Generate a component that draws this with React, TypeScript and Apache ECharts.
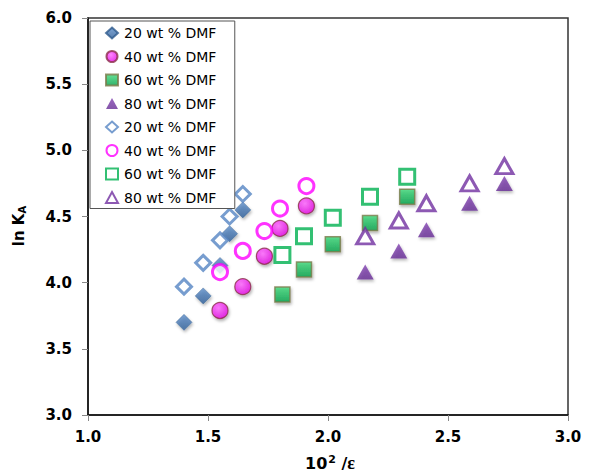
import React, { useEffect, useRef } from "react";
import * as echarts from "echarts";

// Data
const x20 = [1.40, 1.48, 1.55, 1.59, 1.645];
const filled20 = [3.70, 3.90, 4.13, 4.37, 4.55];
const open20 = [3.97, 4.15, 4.32, 4.50, 4.67];

const x40 = [1.55, 1.645, 1.735, 1.80, 1.91];
const filled40 = [3.79, 3.97, 4.20, 4.41, 4.58];
const open40 = [4.08, 4.24, 4.39, 4.56, 4.73];

const x60 = [1.81, 1.90, 2.02, 2.175, 2.33];
const filled60 = [3.91, 4.10, 4.29, 4.45, 4.65];
const open60 = [4.21, 4.35, 4.49, 4.65, 4.80];

const x80 = [2.155, 2.295, 2.41, 2.59, 2.735];
const filled80 = [4.08, 4.24, 4.40, 4.60, 4.75];
const open80 = [4.35, 4.47, 4.60, 4.75, 4.88];

const labels = ["20 wt % DMF", "40 wt % DMF", "60 wt % DMF", "80 wt % DMF"];
const xTicks = [1.0, 1.5, 2.0, 2.5, 3.0];
const yTicks = [3.0, 3.5, 4.0, 4.5, 5.0, 5.5, 6.0];

const zip = (xs: number[], ys: number[]) => xs.map((x, i) => [x, ys[i]]);

const shadow = {
  shadowBlur: 3,
  shadowColor: "rgba(0,0,0,0.35)",
  shadowOffsetX: 1,
  shadowOffsetY: 2,
};

const grad = (top: string, bottom: string) =>
  new echarts.graphic.LinearGradient(0, 0, 0, 1, [
    { offset: 0, color: top },
    { offset: 1, color: bottom },
  ]);

export default function App() {
  const ref = useRef<HTMLDivElement>(null);

  useEffect(() => {
    document.body.style.margin = "0";
    if (!ref.current) return;
    const chart = echarts.init(ref.current, null, { renderer: "svg" });
    const FONT = "DejaVu Sans";

    const series: any[] = [
      {
        name: labels[0],
        type: "scatter",
        symbol: "diamond",
        symbolSize: 16,
        data: zip(x20, filled20),
        itemStyle: { color: grad("#5B8CC8", "#2F5F99"), borderColor: "#2E5A8C", borderWidth: 0.5, ...shadow },
        z: 3,
      },
      {
        name: labels[1],
        type: "scatter",
        symbol: "circle",
        symbolSize: 16,
        data: zip(x40, filled40),
        itemStyle: {
          color: new echarts.graphic.RadialGradient(0.4, 0.35, 0.7, [
            { offset: 0, color: "#FF66FF" },
            { offset: 1, color: "#E000E0" },
          ]),
          borderColor: "#8B2E4A",
          borderWidth: 1.2,
          ...shadow,
        },
        z: 3,
      },
      {
        name: labels[2],
        type: "scatter",
        symbol: "rect",
        symbolSize: 15,
        data: zip(x60, filled60),
        itemStyle: { color: grad("#3CD878", "#00A048"), borderColor: "#7A7A4A", borderWidth: 1.5, ...shadow },
        z: 3,
      },
      {
        name: labels[3],
        type: "scatter",
        symbol: "triangle",
        symbolSize: [17, 15],
        data: zip(x80, filled80),
        itemStyle: { color: grad("#8040B0", "#662C94"), ...shadow },
        z: 3,
      },
      {
        name: labels[0] + " ",
        type: "scatter",
        symbol: "diamond",
        symbolSize: 15,
        data: zip(x20, open20),
        itemStyle: { color: "#ffffff", borderColor: "#5585C3", borderWidth: 3 },
        z: 4,
      },
      {
        name: labels[1] + " ",
        type: "scatter",
        symbol: "circle",
        symbolSize: 15,
        data: zip(x40, open40),
        itemStyle: { color: "#ffffff", borderColor: "#FF00FF", borderWidth: 3 },
        z: 4,
      },
      {
        name: labels[2] + " ",
        type: "scatter",
        symbol: "rect",
        symbolSize: 15,
        data: zip(x60, open60),
        itemStyle: { color: "#ffffff", borderColor: "#00B050", borderWidth: 3 },
        z: 4,
      },
      {
        name: labels[3] + " ",
        type: "scatter",
        symbol: "triangle",
        symbolSize: [17, 15],
        data: zip(x80, open80),
        itemStyle: { color: "#ffffff", borderColor: "#7030A0", borderWidth: 3 },
        z: 4,
      },
    ];

    chart.setOption({
      animation: false,
      backgroundColor: "#ffffff",
      grid: {
        left: 88,
        right: 24,
        top: 18,
        bottom: 59,
        show: true,
        borderColor: "#333",
        borderWidth: 1.5,
        backgroundColor: "transparent",
      },
      xAxis: {
        type: "value",
        min: xTicks[0],
        max: xTicks[xTicks.length - 1],
        interval: 0.5,
        splitLine: { show: false },
        axisLine: { lineStyle: { color: "#111", width: 1.5 } },
        axisTick: { show: true, length: 6, lineStyle: { color: "#888" } },
        axisLabel: {
          margin: 14,
          color: "#000",
          fontFamily: FONT,
          fontWeight: "bold",
          fontSize: 15,
          formatter: (v: number) => v.toFixed(1),
        },
      },
      yAxis: {
        type: "value",
        min: yTicks[0],
        max: yTicks[yTicks.length - 1],
        interval: 0.5,
        splitLine: { show: false },
        axisLine: { show: true, lineStyle: { color: "#111", width: 1.5 } },
        axisTick: { show: true, length: 6, lineStyle: { color: "#888" } },
        axisLabel: {
          margin: 16,
          color: "#000",
          fontFamily: FONT,
          fontWeight: "bold",
          fontSize: 15,
          formatter: (v: number) => v.toFixed(1),
        },
      },
      legend: {
        orient: "vertical",
        left: 90,
        top: 21,
        padding: [4, 14, 3, 15],
        itemWidth: 12,
        itemHeight: 11,
        itemGap: 7.5,
        backgroundColor: "#ffffff",
        borderColor: "#555",
        borderWidth: 1,
        textStyle: { fontFamily: FONT, fontSize: 14, color: "#000", lineHeight: 16, padding: [0, 0, 0, 1] },
        data: series.map((s) => s.name),
        z: 10,
      },
      graphic: [
        {
          type: "text",
          x: 19,
          y: 226,
          rotation: Math.PI / 2,
          style: {
            text: "ln K{sub|A}",
            align: "center",
            verticalAlign: "middle",
            fontFamily: FONT,
            fontWeight: "bold",
            fontSize: 15,
            fill: "#000",
            rich: {
              sub: { fontFamily: FONT, fontWeight: "bold", fontSize: 10, verticalAlign: "bottom", padding: [6, 0, 0, 0] },
            },
          },
        },
        {
          type: "text",
          x: 330,
          y: 463,
          style: {
            text: "10{sup|2} /{eps|ε}",
            align: "center",
            verticalAlign: "middle",
            fontFamily: FONT,
            fontWeight: "bold",
            fontSize: 16,
            fill: "#000",
            rich: {
              sup: { fontFamily: FONT, fontWeight: "bold", fontSize: 11, verticalAlign: "top", padding: [0, 0, 6, 1] },
              eps: { fontFamily: "Liberation Serif", fontWeight: "bold", fontSize: 18 },
            },
          },
        },
      ],
      series,
    });

    return () => chart.dispose();
  }, []);

  return <div ref={ref} style={{ width: 592, height: 474 }} />;
}
